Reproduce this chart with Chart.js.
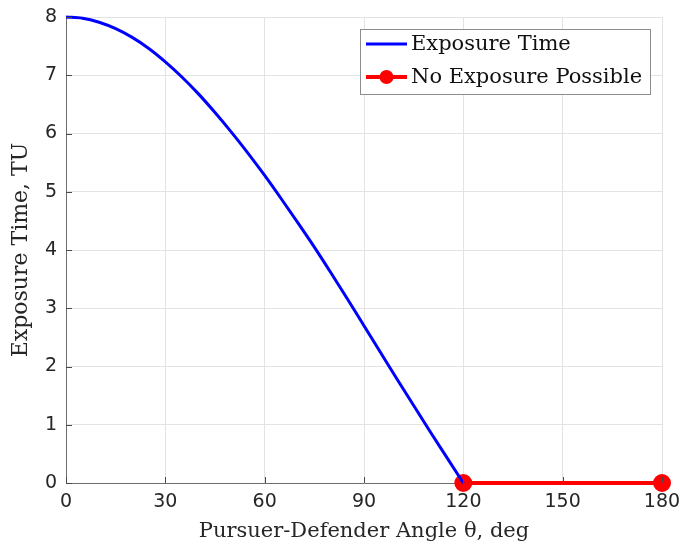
<!DOCTYPE html>
<html>
<head>
<meta charset="utf-8">
<script src="https://cdn.jsdelivr.net/npm/chart.js@4/dist/chart.umd.min.js"></script>
<style>
  html, body { margin: 0; padding: 0; background: #ffffff; }
  #wrap { width: 683px; height: 548px; }
</style>
</head>
<body>
<div id="wrap"><canvas id="plot" width="683" height="548"></canvas></div>
<script>
// Pursuer-defender angle (deg) and the resulting exposure time (TU)
const angleDeg = [0, 5, 10, 15, 20, 25, 30, 35, 40, 45, 50, 55, 60,
                  65, 70, 75, 80, 85, 90, 95, 100, 105, 110, 115, 120];
const exposureTime = [8.00, 7.98, 7.91, 7.80, 7.65, 7.46, 7.23, 6.97, 6.68, 6.36, 6.02, 5.66, 5.28,
                      4.88, 4.47, 4.05, 3.61, 3.16, 2.70, 2.24, 1.78, 1.33, 0.88, 0.44, 0.00];

// Angles where no exposure is possible
const noExposureAngle = [120, 180];
const noExposureTime = [0, 0];

// Axis ticks
const xTickValues = [0, 30, 60, 90, 120, 150, 180];
const yTickValues = [0, 1, 2, 3, 4, 5, 6, 7, 8];

const seriesLabels = ['Exposure Time', 'No Exposure Possible'];

const toPoints = (xs, ys) => xs.map((x, i) => ({ x: x, y: ys[i] }));

const SERIF = '"DejaVu Serif", "Liberation Serif", serif';
const TICK_FONT = { family: '"DejaVu Sans", "Liberation Sans", sans-serif', size: 19 };
const TITLE_FONT = { family: SERIF, size: 21 };
const Y_TITLE_FONT = { family: SERIF, size: 22 };

// Small inward tick marks on the left and bottom axes
const innerTicks = {
  id: 'innerTicks',
  afterDatasetsDraw(chart) {
    const { ctx, chartArea, scales } = chart;
    ctx.save();
    ctx.strokeStyle = '#4a4a4a';
    ctx.lineWidth = 1;
    ctx.beginPath();
    xTickValues.forEach(v => {
      const px = Math.round(scales.x.getPixelForValue(v)) + 0.5;
      ctx.moveTo(px, chartArea.bottom);
      ctx.lineTo(px, chartArea.bottom - 6);
    });
    yTickValues.forEach(v => {
      const py = Math.round(scales.y.getPixelForValue(v)) + 0.5;
      ctx.moveTo(chartArea.left, py);
      ctx.lineTo(chartArea.left + 6, py);
    });
    ctx.stroke();
    ctx.restore();
  }
};

// Boxed legend in the upper right of the plot
const boxLegend = {
  id: 'boxLegend',
  afterDraw(chart) {
    const { ctx } = chart;
    const x0 = 360.5, y0 = 29.5, w = 290, h = 65;
    ctx.save();
    ctx.fillStyle = '#ffffff';
    ctx.fillRect(x0, y0, w, h);
    ctx.strokeStyle = '#8c8c8c';
    ctx.lineWidth = 1;
    ctx.strokeRect(x0, y0, w, h);
    const rows = [44, 77];
    chart.data.datasets.forEach((ds, i) => {
      const y = rows[i];
      ctx.strokeStyle = ds.borderColor;
      ctx.lineWidth = ds.borderWidth;
      ctx.beginPath();
      ctx.moveTo(366, y);
      ctx.lineTo(407, y);
      ctx.stroke();
      if (ds.pointRadius > 0) {
        ctx.fillStyle = ds.pointBackgroundColor;
        ctx.beginPath();
        ctx.arc(386.5, y, ds.pointRadius, 0, Math.PI * 2);
        ctx.fill();
      }
      ctx.fillStyle = '#111111';
      ctx.font = TITLE_FONT.size + 'px ' + TITLE_FONT.family;
      ctx.textAlign = 'left';
      ctx.textBaseline = 'middle';
      ctx.fillText(ds.label, 411, y + 1);
    });
    ctx.restore();
  }
};

new Chart(document.getElementById('plot'), {
  type: 'line',
  data: {
    datasets: [
      {
        label: seriesLabels[0],
        data: toPoints(angleDeg, exposureTime),
        borderColor: '#0000ff',
        backgroundColor: '#0000ff',
        borderWidth: 3,
        pointRadius: 0,
        cubicInterpolationMode: 'monotone',
        clip: false
      },
      {
        label: seriesLabels[1],
        data: toPoints(noExposureAngle, noExposureTime),
        borderColor: '#ff0000',
        backgroundColor: '#ff0000',
        pointBackgroundColor: '#ff0000',
        pointBorderColor: '#ff0000',
        borderWidth: 4,
        pointRadius: 7,
        pointHoverRadius: 7,
        clip: false
      }
    ]
  },
  options: {
    responsive: false,
    animation: false,
    events: [],
    layout: { padding: { top: 17, right: 21, left: 0, bottom: 0 } },
    plugins: {
      legend: { display: false },
      tooltip: { enabled: false }
    },
    scales: {
      x: {
        type: 'linear',
        min: 0,
        max: 180,
        afterBuildTicks: s => { s.ticks = xTickValues.map(v => ({ value: v })); },
        afterFit: s => { s.height = 65; s.paddingLeft = 0; s.paddingRight = 0; },
        ticks: { color: '#262626', font: TICK_FONT, padding: 8, maxRotation: 0 },
        grid: { color: '#e3e3e3', lineWidth: 1, drawTicks: false },
        border: { display: true, color: '#6e6e6e', width: 1 },
        title: {
          display: true,
          text: 'Pursuer-Defender Angle θ, deg',
          color: '#262626',
          font: TITLE_FONT,
          padding: { top: 0, bottom: 4 }
        }
      },
      y: {
        type: 'linear',
        min: 0,
        max: 8,
        afterBuildTicks: s => { s.ticks = yTickValues.map(v => ({ value: v })); },
        afterFit: s => { s.width = 66; s.paddingTop = 0; s.paddingBottom = 0; },
        ticks: { color: '#262626', font: TICK_FONT, padding: 9 },
        grid: { color: '#e3e3e3', lineWidth: 1, drawTicks: false },
        border: { display: true, color: '#6e6e6e', width: 1 },
        title: {
          display: true,
          text: 'Exposure Time, TU',
          color: '#262626',
          font: Y_TITLE_FONT,
          padding: { top: 8, bottom: 0 }
        }
      }
    }
  },
  plugins: [innerTicks, boxLegend]
});
</script>
</body>
</html>
